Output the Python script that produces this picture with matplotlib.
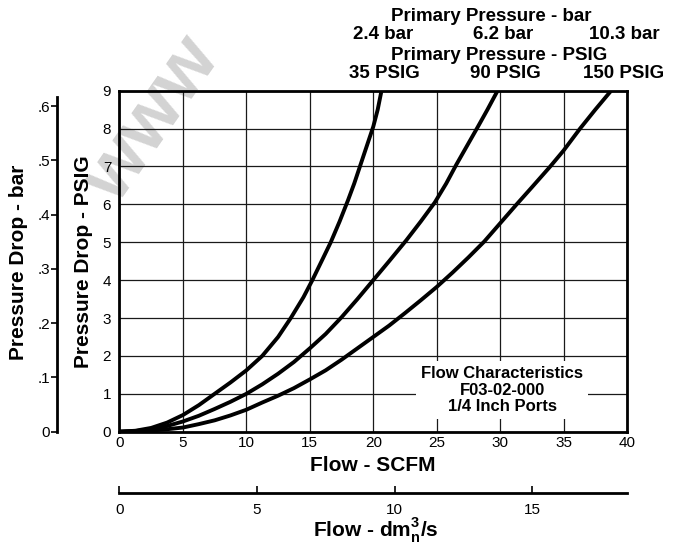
import matplotlib
matplotlib.use("Agg")
import matplotlib.pyplot as plt

plt.rcParams["font.family"] = ["Liberation Sans", "DejaVu Sans"]
plt.rcParams["mathtext.fontset"] = "custom"
plt.rcParams["mathtext.rm"] = "Liberation Sans"
plt.rcParams["mathtext.bf"] = "Liberation Sans:bold"

# flow (SCFM) vs pressure drop (PSIG)
flow_35 = [0, 1.25, 2.5, 3.75, 5, 6.25, 7.5, 8.75, 10, 11.25, 12.5, 13.5, 14.5,
           15.2, 16, 16.65, 17.35, 18, 18.5, 19, 19.5, 20, 20.35, 20.65]
drop_35 = [0, 0.025, 0.1, 0.24, 0.44, 0.7, 1.0, 1.3, 1.62, 2.0, 2.5, 3.0, 3.55,
           4.0, 4.55, 5.0, 5.55, 6.1, 6.55, 7.05, 7.55, 8.05, 8.5, 9]

flow_90 = [0, 1.25, 2.5, 3.75, 5, 6.25, 7.5, 8.75, 10, 11.25, 12.5, 13.75, 15,
           16.25, 17.5, 18.75, 20, 21.25, 22.6, 23.75, 24.85, 25.75, 26.55,
           27.4, 28.25, 29, 29.8]
drop_90 = [0, 0.015, 0.07, 0.15, 0.27, 0.42, 0.6, 0.79, 1.0, 1.25, 1.53, 1.84, 2.2,
           2.58, 3.02, 3.5, 4.0, 4.5, 5.05, 5.55, 6.05, 6.55, 7.05,
           7.55, 8.05, 8.5, 9]

flow_150 = [0, 1.25, 2.5, 3.75, 5, 6.25, 7.5, 8.75, 10, 11.25, 12.5, 13.75, 15,
            16.25, 17.5, 18.75, 20, 21.25, 22.5, 23.75, 25, 26.25, 27.5, 28.75,
            30, 31.3, 32.5, 33.95, 35, 36.3, 37.5, 38.75]
drop_150 = [0, 0.01, 0.03, 0.065, 0.11, 0.2, 0.3, 0.43, 0.58, 0.77, 0.95, 1.15, 1.38,
            1.62, 1.9, 2.2, 2.5, 2.8, 3.13, 3.47, 3.82, 4.2, 4.6, 5.02,
            5.5, 6.0, 6.45, 7.0, 7.42, 8.0, 8.5, 9.0]

x_ticks = [0, 5, 10, 15, 20, 25, 30, 35, 40]
y_ticks = [0, 1, 2, 3, 4, 5, 6, 7, 8, 9]
bar_ticks = [0, 0.1, 0.2, 0.3, 0.4, 0.5, 0.6]
bar_labels = ["0", ".1", ".2", ".3", ".4", ".5", ".6"]
dm3_ticks = [0, 5, 10, 15]

bar_names = ["2.4 bar", "6.2 bar", "10.3 bar"]
psig_names = ["35 PSIG", "90 PSIG", "150 PSIG"]

W, H = 680, 552
fig = plt.figure(figsize=(6.8, 5.52), dpi=100)


def fx(px):
    return px / W


def fy(py):
    return 1 - py / H


# watermark behind everything
fig.text(fx(152), fy(120), "www", fontsize=56, fontweight="bold", color="#d3d3d3",
         rotation=55, ha="center", va="center", zorder=-5)

# main chart
left, right, top, bottom = 119.5, 627, 90.7, 431.7
ax = fig.add_axes([fx(left), fy(bottom), fx(right - left), (bottom - top) / H])
ax.set_facecolor("none")
for fl, dp in [(flow_35, drop_35), (flow_90, drop_90), (flow_150, drop_150)]:
    ax.plot(fl, dp, color="black", lw=2.8, zorder=4, solid_joinstyle="round")
ax.set_xlim(0, 40)
ax.set_ylim(0, 9)
ax.set_xticks(x_ticks)
ax.set_yticks(y_ticks)
ax.grid(True, color="#1a1a1a", lw=0.9)
ax.tick_params(length=0, labelsize=11)
ax.tick_params(axis="y", pad=6)
ax.tick_params(axis="x", pad=3)
for s in ax.spines.values():
    s.set_linewidth(2)
ax.set_xlabel("Flow - SCFM", fontsize=15, fontweight="bold")
ax.xaxis.set_label_coords(fx(373), fy(456), transform=fig.transFigure)
ax.set_ylabel("Pressure Drop - PSIG", fontsize=15, fontweight="bold")
ax.yaxis.set_label_coords(fx(93), fy(262), transform=fig.transFigure)

ax.text(30.16, 1.1, "Flow Characteristics\nF03-02-000\n1/4 Inch Ports",
        ha="center", va="center", fontsize=12, fontweight="bold", linespacing=1.12,
        zorder=3, bbox=dict(facecolor="white", edgecolor="none", boxstyle="square,pad=0.3"))

# bar scale on the far left
bar_top = 97
axb = fig.add_axes([fx(57), fy(bottom), fx(50), (bottom - bar_top) / H])
axb.set_facecolor("none")
axb.set_ylim(0, 0.617)
axb.set_xticks([])
axb.set_yticks(bar_ticks)
axb.set_yticklabels(bar_labels)
axb.tick_params(axis="y", length=4, width=1.2, pad=1, labelsize=11)
for k in ["top", "right", "bottom"]:
    axb.spines[k].set_visible(False)
axb.spines["left"].set_linewidth(2)
axb.set_ylabel("Pressure Drop - bar", fontsize=15, fontweight="bold")
axb.yaxis.set_label_coords(fx(28), fy(262), transform=fig.transFigure)

# dm3/s scale under the chart
dm_line = 493
axd = fig.add_axes([fx(left), fy(dm_line), fx(right - left), 20 / H])
axd.set_facecolor("none")
axd.set_xlim(0, (right - left) / 27.5)
axd.set_yticks([])
axd.set_xticks(dm3_ticks)
axd.tick_params(axis="x", direction="in", length=5, width=1.2, pad=7, labelsize=11)
for k in ["top", "right", "left"]:
    axd.spines[k].set_visible(False)
axd.spines["bottom"].set_linewidth(2)
axd.set_xlabel(r"Flow - dm$^{\mathbf{3}}_{\mathbf{n}}$/s", fontsize=15, fontweight="bold")
axd.xaxis.set_label_coords(fx(376), fy(516), transform=fig.transFigure)

# primary pressure headings
fig.text(fx(491), fy(20.7), "Primary Pressure - bar", ha="center", va="baseline",
         fontsize=13.5, fontweight="bold")
for xp, name in zip([383, 503.5, 624], bar_names):
    fig.text(fx(xp), fy(39), name, ha="center", va="baseline", fontsize=13.5, fontweight="bold")
fig.text(fx(499), fy(60), "Primary Pressure - PSIG", ha="center", va="baseline",
         fontsize=13.5, fontweight="bold")
for xp, name in zip([384, 505, 624], psig_names):
    fig.text(fx(xp), fy(77.5), name, ha="center", va="baseline", fontsize=13.5, fontweight="bold")

fig.savefig("out.png", dpi=100)
